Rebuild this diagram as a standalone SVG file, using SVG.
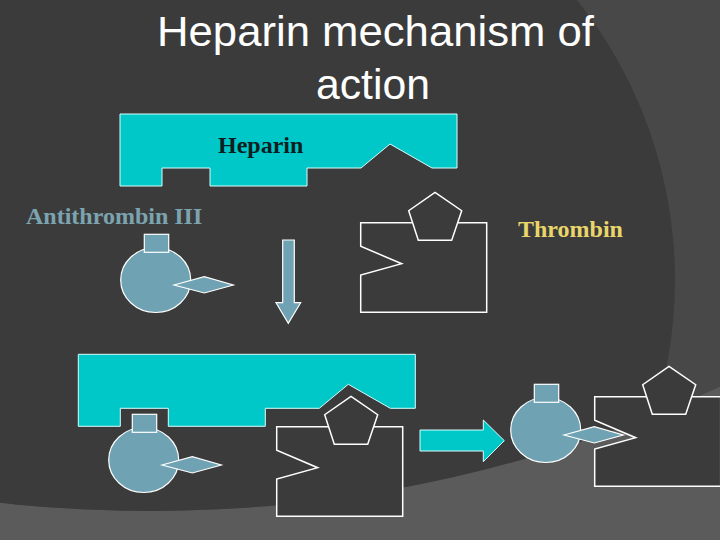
<svg xmlns="http://www.w3.org/2000/svg" width="720" height="540" viewBox="0 0 720 540">
<style>
.hep{fill:#00c8c8;stroke:#d8ffff;stroke-width:1}
.at{fill:#6fa3b3;stroke:#ffffff;stroke-width:1.2}
.thr{fill:#3b3b3b;stroke:#ffffff;stroke-width:1.5}
.title{font-family:"Liberation Sans",Arial,sans-serif;font-size:43px;fill:#ffffff}
.lbl{font-family:"Liberation Serif","Times New Roman",serif;font-size:24px;font-weight:bold}
</style>
<defs>
<clipPath id="cb"><circle cx="150" cy="-859" r="1370"/></clipPath>
<g id="atShape">
<ellipse class="at" cx="155.7" cy="280" rx="35" ry="32.5"/>
<rect class="at" x="144.3" y="234.3" width="24.4" height="18"/>
<polygon class="at" points="174,285 204.3,276.7 233.3,285 204.3,293"/>
</g>
<g id="thrShape">
<polygon class="thr" points="360.7,222.7 486.7,222.7 486.7,312.3 360.7,312.3 360.7,275 401.7,263.7 360.7,246.3"/>
<polygon class="thr" points="435,192.3 461.7,210.7 451.7,240.3 418.3,240.3 408.7,210.7"/>
</g>
<polygon id="hepShape" class="hep" points="120,114 457,114 457,168 432,168 390,144 361,168 307,168 307,186 210,186 210,168 162,168 162,186 120,186"/>
</defs>
<g id="background">
<rect width="720" height="540" fill="#5b5b5b"/>
<g clip-path="url(#cb)">
<rect width="720" height="540" fill="#484848"/>
<circle cx="226" cy="280" r="449" fill="#3b3b3b"/>
</g>
</g>
<g id="title">
<text class="title" x="157" y="46" textLength="437" lengthAdjust="spacingAndGlyphs">Heparin mechanism of</text>
<text class="title" x="316" y="99" textLength="114" lengthAdjust="spacingAndGlyphs">action</text>
</g>
<g id="heparin">
<use href="#hepShape"/>
<text class="lbl" x="218" y="153" fill="#0d1f1f">Heparin</text>
</g>
<g id="antithrombin">
<text class="lbl" x="26" y="224" fill="#7ca3b0">Antithrombin III</text>
<use href="#atShape"/>
</g>
<g id="thrombin">
<use href="#thrShape"/>
<text class="lbl" x="518" y="237" fill="#e8d66a">Thrombin</text>
</g>
<g id="complex">
<use href="#hepShape" transform="translate(-41.7,240.3)"/>
<use href="#atShape" transform="translate(-12,180)"/>
<use href="#thrShape" transform="translate(-84,204)"/>
</g>
<g id="products">
<use href="#thrShape" transform="translate(234,174)"/>
<use href="#atShape" transform="translate(390,150)"/>
</g>
<g id="connectors">
<polygon class="at" points="282.7,240 294.3,240 294.3,302.7 300.7,302.7 288.3,323.3 276,302.7 282.7,302.7"/>
<polygon class="hep" points="420,430 483.3,430 483.3,420 504.3,440.7 483.3,461.7 483.3,451 420,451"/>
</g>
</svg>
